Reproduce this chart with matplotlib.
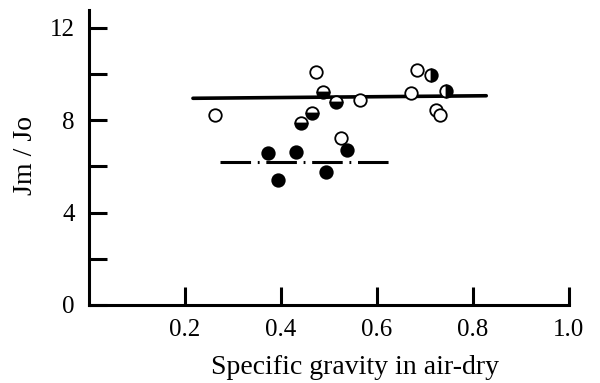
import matplotlib
matplotlib.use("Agg")
import matplotlib.pyplot as plt

# open circles
open_x = [0.262, 0.474, 0.565, 0.526, 0.684, 0.672, 0.724, 0.731]
open_y = [8.22, 10.10, 8.87, 7.21, 10.17, 9.16, 8.44, 8.23]
# half-filled circles (right half dark)
half_r_x = [0.712, 0.744]
half_r_y = [9.96, 9.28]
# half-filled circles (bottom half dark)
half_b_x = [0.488, 0.516, 0.464, 0.443]
half_b_y = [9.23, 8.80, 8.33, 7.87]
# filled circles
filled_x = [0.374, 0.432, 0.537, 0.394, 0.495]
filled_y = [6.57, 6.64, 6.71, 5.41, 5.77]

# fitted lines
solid_x = [0.217, 0.828]
solid_y = [8.95, 9.06]
dashdot_x = [0.274, 0.628]
dashdot_y = [6.18, 6.18]

plt.rcParams["font.family"] = ["Liberation Serif", "DejaVu Serif"]

fig = plt.figure(figsize=(6.0, 3.83), dpi=100)
ax = fig.add_axes([0.148, 0.2037, 0.80, 0.770])

lw = 2.2
ax.plot(solid_x, solid_y, color="black", linewidth=2.6, solid_capstyle="round", zorder=2)
ax.plot(dashdot_x, dashdot_y, color="black", linewidth=lw,
        dashes=(10, 2.2, 0.6, 2.2), zorder=2)

mk = dict(linestyle="none", marker="o", markersize=9, markeredgewidth=1.3,
          markeredgecolor="black", zorder=3)
ax.plot(open_x, open_y, markerfacecolor="white", **mk)
ax.plot(half_r_x, half_r_y, fillstyle="right", markerfacecolor="black",
        markerfacecoloralt="white", **mk)
ax.plot(half_b_x, half_b_y, fillstyle="bottom", markerfacecolor="black",
        markerfacecoloralt="white", **mk)
ax.plot(filled_x, filled_y, markerfacecolor="black", **mk)

ax.set_xlim(0, 1.0)
ax.set_ylim(0, 12.77)

for side in ("top", "right"):
    ax.spines[side].set_visible(False)
for side in ("left", "bottom"):
    ax.spines[side].set_linewidth(lw)

ax.set_xticks([0.2, 0.4, 0.6, 0.8, 1.0])
ax.set_xticklabels(["0.2", "0.4", "0.6", "0.8", "1.0"])
ax.set_yticks([0, 2, 4, 6, 8, 10, 12])
ax.set_yticklabels(["0", "", "4", "", "8", "", "12"])
ax.tick_params(direction="in", length=13, width=lw, labelsize=18, pad=10)
ax.tick_params(axis="x", pad=10)

ax.set_xlabel("Specific gravity in air-dry", fontsize=20)
ax.xaxis.set_label_coords(0.554, -0.17)
ax.set_ylabel("Jm / Jo", fontsize=20)
ax.yaxis.set_label_coords(-0.105, 0.508)

fig.savefig("out.png", dpi=100)
